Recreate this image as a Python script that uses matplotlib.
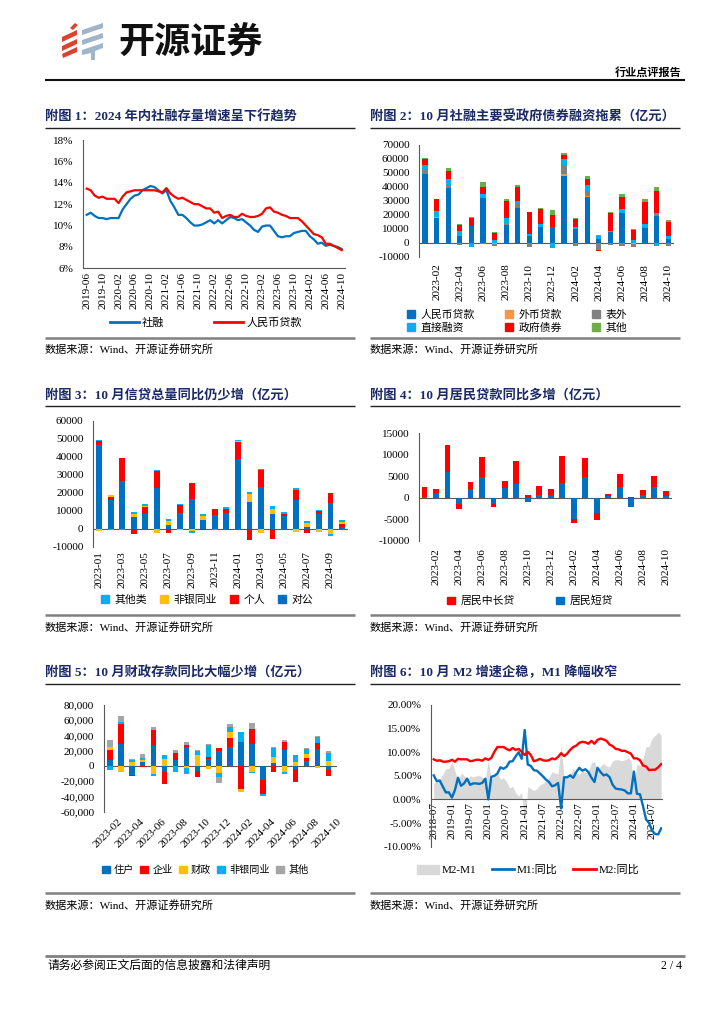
import matplotlib
matplotlib.use('Agg')
import matplotlib.pyplot as plt
import numpy as np
from matplotlib.patches import Polygon, Patch
from matplotlib.lines import Line2D
import matplotlib.ticker as mticker
import matplotlib.transforms as mtrans

plt.rcParams['font.family'] = ['Liberation Serif', 'Noto Sans CJK SC']
plt.rcParams['axes.unicode_minus'] = False

# ---------------- data ----------------
# Panel 1: 2019-06 .. 2024-10 monthly (%)
p1_ticks = ['2019-06', '2019-10', '2020-02', '2020-06', '2020-10', '2021-02', '2021-06',
            '2021-10', '2022-02', '2022-06', '2022-10', '2023-02', '2023-06', '2023-10',
            '2024-02', '2024-06', '2024-10']
p1_tsf = [11.0, 11.2, 10.9, 10.7, 10.7, 10.6, 10.7,
          10.7, 10.7, 11.5, 12.0, 12.5, 12.8, 12.9, 13.3, 13.5, 13.7, 13.6, 13.3,
          13.0, 13.3, 12.3, 11.7, 11.0, 11.0, 10.7, 10.3, 10.0, 10.0, 10.1, 10.3,
          10.5, 10.2, 10.5, 10.2, 10.5, 10.8, 10.7, 10.5, 10.6, 10.3, 10.0, 9.6,
          9.4, 9.9, 10.0, 10.0, 9.5, 9.0, 8.9, 9.0, 9.0, 9.3, 9.4, 9.5,
          9.5, 9.0, 8.7, 8.3, 8.4, 8.1, 8.2, 8.1, 8.0, 7.8]
p1_loan = [13.45, 13.3, 12.8, 12.6, 12.7, 12.5, 12.5,
           12.5, 12.1, 12.7, 13.1, 13.2, 13.3, 13.3, 13.3, 13.3, 13.3, 13.3, 13.2,
           13.1, 13.5, 13.0, 12.7, 12.5, 12.6, 12.4, 12.2, 12.0, 12.0, 11.8, 11.6,
           11.6, 11.2, 11.3, 10.7, 10.9, 11.0, 10.8, 10.8, 11.1, 10.9, 10.8, 10.8,
           10.9, 11.1, 11.6, 11.7, 11.3, 11.2, 11.0, 10.9, 10.7, 10.7, 10.7, 10.4,
           10.0, 9.6, 9.2, 9.1, 8.9, 8.3, 8.3, 8.1, 7.9, 7.7]

# Panel 2: 2023-01 .. 2024-10 (亿元)
p2_ticks = ['2023-02', '2023-04', '2023-06', '2023-08', '2023-10', '2023-12',
            '2024-02', '2024-04', '2024-06', '2024-08', '2024-10']
p2_loan = [49000, 18000, 39000, 4500, 12000, 32000, -400, 13000, 25000, 4500, 11000,
           11000, 48000, 9500, 32500, 3000, 8000, 21500, -500, 10500, 19500, 2800]
p2_fx = [200, 100, 500, -200, -500, -300, -300, -200, 200, -100, -200,
         -100, 1500, -100, 1000, -500, -300, -200, -500, -200, -100, -200]
p2_off = [3500, 200, 1500, -1300, -200, -800, -1500, 500, 3000, -3000, 300,
          -300, 6000, -2500, 3500, -4500, -1500, -2000, -2000, 1000, 2000, -2000]
p2_direct = [2700, 4500, 4500, 3800, -2200, 3000, 2200, 4500, 1500, 2000, 2000,
             -3500, 4500, 2000, 4500, 2000, 500, 2500, 2200, 2000, -2500, 1700]
p2_gov = [4500, 8200, 6000, 4600, 6000, 5000, 4500, 12000, 10000, 15500, 11000,
          9000, 2500, 5500, 4500, -800, 12500, 8500, 7000, 16000, 15500, 10500]
p2_other = [500, 500, 2300, 500, 600, 3500, 1000, 1500, 2000, 300, 500,
            3500, 2000, 1000, 2000, 200, 1000, 2500, 900, 1500, 3000, 1000]
p2_names = ['人民币贷款', '外币贷款', '表外', '直接融资', '政府债券', '其他']

# Panel 3: 2023-01 .. 2024-10 (亿元)
p3_ticks = ['2023-01', '2023-03', '2023-05', '2023-07', '2023-09', '2023-11',
            '2024-01', '2024-03', '2024-05', '2024-07', '2024-09']
p3_corp = [46500, 15800, 26500, 6500, 8200, 22500, 2000, 9000, 16500, 4600, 7800,
           8500, 38500, 15000, 23000, 8200, 7200, 16000, 800, 8000, 14200, 800]
p3_hh = [2500, 2000, 13000, -2700, 3600, 9500, -2500, 4200, 9000, -600, 3400,
         2300, 9500, -6000, 9500, -5700, 800, 5500, -2500, 1800, 5600, 1700]
p3_nbfi = [-1000, 700, -200, 1800, 700, -2300, 2200, -600, -1500, 2400, -200,
           -200, 500, 4300, -2500, 2600, -200, -1800, 2200, -1600, -2800, 1300]
p3_other = [500, -500, -500, 1200, 1000, 500, 1300, 800, -1000, 1000, -300,
            1000, 1000, 1200, 500, 1700, 1500, 1300, 1500, 700, -1200, 1200]
p3_names = ['对公', '个人', '非银同业', '其他类']

# Panel 4: 2023-01 .. 2024-10 (亿元)
p4_ticks = p2_ticks
p4_short = [250, 1100, 6000, -1300, 2000, 4900, -1400, 2200, 3200, -1000, 600,
            700, 3500, -4800, 4900, -3500, 400, 2500, -2100, 700, 2600, 400]
p4_mid = [2200, 900, 6300, -1200, 1600, 4600, -600, 1700, 5400, 700, 2200,
          1400, 6200, -1000, 4400, -1700, 400, 3100, 150, 1200, 2400, 1200]
p4_names = ['居民短贷', '居民中长贷']

# Panel 5: 2023-02 .. 2024-10 (亿元)
p5_ticks = p2_ticks
p5_hh = [8000, 29000, -12000, 5000, 26500, -8000, 7500, 24500, -7000, 8500, 19500,
         25000, 31500, 28500, -18000, 3500, 21000, -4000, 6000, 22000, -5500]
p5_corp = [12500, 26000, -1000, -2000, 20500, -16000, 9000, 2500, -8000, 3000, 3500,
           12000, -30000, 20000, -18500, -8500, 10000, -17000, 4000, 8000, -7500]
p5_fis = [4500, -8500, 5000, 3000, -10000, 9000, -500, -2500, 14000, -4000, -9500,
          8000, -4000, -8000, -500, 8000, -8500, 5500, 6000, -3000, 6000]
p5_nbfi = [-5500, 3000, 3000, 3000, -3000, 5000, -8000, -7500, 5500, 16000, -5500,
           6000, 12500, -1500, -3000, 12500, -2000, 8500, 6500, 8500, 11000]
p5_other = [8500, 7500, 500, 5000, 4000, 0, 4000, 4000, 2000, 1000, -7000,
            4000, 0, 8500, 0, 1000, 3500, 0, 500, 1000, 2500]
p5_names = ['住户', '企业', '财政', '非银同业', '其他']

# Panel 6: 2018-07 .. 2024-10 monthly (%)
p6_ticks = ['2018-07', '2019-01', '2019-07', '2020-01', '2020-07', '2021-01', '2021-07',
            '2022-01', '2022-07', '2023-01', '2023-07', '2024-01', '2024-07']
p6_m1 = [5.1, 3.9, 4.0, 2.7, 1.5, 1.5,
         0.4, 2.0, 4.6, 2.9, 3.4, 4.4, 3.1, 3.4, 3.4, 3.3, 3.5, 4.4,
         0.0, 4.8, 5.0, 5.5, 6.8, 6.5, 6.9, 8.0, 8.1, 9.1, 10.0, 8.6,
         14.7, 7.4, 7.1, 6.2, 6.1, 5.5, 4.9, 4.2, 3.7, 2.8, 3.0, 3.5,
         -1.9, 4.7, 4.7, 5.1, 4.6, 5.8, 6.7, 6.1, 6.4, 5.8, 4.6, 3.7,
         6.7, 5.8, 5.1, 5.3, 4.7, 3.1, 2.3, 2.2, 2.1, 1.9, 1.3, 1.3,
         5.9, 1.2, 1.1, -1.4, -4.2, -5.0, -6.6, -7.3, -7.4, -6.1]
p6_m2 = [8.5, 8.2, 8.3, 8.0, 8.0, 8.1,
         8.4, 8.0, 8.6, 8.5, 8.5, 8.5, 8.1, 8.2, 8.4, 8.4, 8.2, 8.7,
         8.4, 8.8, 10.1, 11.1, 11.1, 11.1, 10.7, 10.4, 10.9, 10.5, 10.7, 10.1,
         9.4, 10.1, 9.4, 8.1, 8.3, 8.6, 8.3, 8.2, 8.3, 8.7, 8.5, 9.0,
         9.8, 9.2, 9.7, 10.5, 11.1, 11.4, 12.0, 12.2, 12.1, 11.8, 12.4, 11.8,
         12.6, 12.9, 12.7, 12.4, 11.6, 11.3, 10.7, 10.6, 10.3, 10.3, 10.0, 9.7,
         8.7, 8.7, 8.3, 7.2, 7.0, 6.2, 6.3, 6.3, 6.8, 7.5]
p6_spread = [3.4, 4.3, 4.3, 5.3, 6.5, 6.6,
             8.0, 6.0, 4.0, 5.6, 5.1, 4.1, 5.0, 4.8, 5.0, 5.1, 4.7, 4.3,
             8.4, 4.0, 5.1, 5.6, 4.3, 4.6, 3.8, 2.4, 2.8, 1.4, 0.7, 1.5,
             -5.3, 2.7, 2.3, 1.9, 2.2, 3.1, 3.4, 4.0, 4.6, 5.9, 5.5, 5.5,
             11.7, 4.5, 5.0, 5.4, 6.5, 5.6, 5.3, 6.1, 5.7, 6.0, 7.8, 8.1,
             5.9, 7.1, 7.6, 7.1, 6.9, 8.2, 8.4, 8.4, 8.2, 8.4, 8.7, 8.4,
             2.8, 7.5, 7.2, 8.6, 11.2, 11.2, 12.9, 13.6, 14.2, 13.6]

# ---------------- styling ----------------
BLUE = '#0070C0'
RED = '#FF0000'
CYAN = '#00B0F0'
GOLD = '#FFC000'
GRAY = '#808080'
LGRAY = '#A5A5A5'
GREEN = '#70AD47'
ORANGE = '#F79646'
NAVY = '#1B2A66'
AXC = '#595959'
TICK_FS = 8

W, H = 724, 1024
fig = plt.figure(figsize=(W / 100, H / 100), dpi=100)


def fx(x):
    return x / W


def fy(y):
    return 1 - y / H


def add_ax(l, t, r, b):
    return fig.add_axes([l / W, 1 - b / H, (r - l) / W, (b - t) / H])


def hline(x0, x1, y, lw=1.0, color='#222222'):
    fig.add_artist(Line2D([fx(x0), fx(x1)], [fy(y), fy(y)], transform=fig.transFigure,
                          color=color, lw=lw, solid_capstyle='butt'))


def style_ax(ax):
    for s in ['top', 'right']:
        ax.spines[s].set_visible(False)
    for s in ['left', 'bottom']:
        ax.spines[s].set_color(AXC)
        ax.spines[s].set_linewidth(0.8)
    ax.tick_params(axis='both', labelsize=TICK_FS, labelcolor='black', length=3, width=0.7, color=AXC)
    ax.tick_params(axis='y', length=0, pad=7)
    ax.patch.set_alpha(0)


def stacked(ax, series, colors, width):
    n = len(series[0])
    x = np.arange(n)
    pos = np.zeros(n)
    neg = np.zeros(n)
    for vals, c in zip(series, colors):
        v = np.asarray(vals, dtype=float)
        bottom = np.where(v >= 0, pos, neg)
        ax.bar(x, v, width, bottom=bottom, color=c, linewidth=0)
        pos += np.where(v >= 0, v, 0)
        neg += np.where(v < 0, v, 0)
    return x


def title(x, y, s):
    fig.text(fx(x), fy(y), s, fontsize=9.5, fontweight='bold', color=NAVY, va='center', ha='left')


def source(x, y):
    fig.text(fx(x), fy(y), '数据来源：Wind、开源证券研究所', fontsize=8, va='center', ha='left')


def bar_x_axis(ax, ticks_pos, labels, pad):
    ax.spines['bottom'].set_visible(False)
    ax.axhline(0, color=AXC, lw=0.8, zorder=0.5)
    ax.set_xticks(ticks_pos)
    ax.set_xticklabels(labels, rotation=90)
    ax.tick_params(axis='x', length=0, pad=pad)


# ---------------- header ----------------
logo = fig.add_axes([55 / W, 1 - 68 / H, 60 / W, 48 / H])
logo.set_xlim(55, 115)
logo.set_ylim(68, 20)
logo.axis('off')
red_polys = [
    [(70, 28), (75, 23), (78, 25), (73, 30)],
    [(62, 37), (77, 30), (77, 35), (62, 42)],
    [(62, 46), (77, 39), (77, 44), (62, 51)],
    [(62, 54), (77, 47), (77, 52), (63, 58)],
]
blue_polys = [
    [(82, 30), (103, 23), (103, 28), (82, 35)],
    [(82, 40), (103, 33), (103, 38), (82, 45)],
    [(82, 50), (103, 43), (103, 48), (95, 51), (95, 60), (91, 60), (91, 53), (82, 55)],
]
for p in red_polys:
    logo.add_patch(Polygon(p, closed=True, color='#D9432F', lw=0))
for p in blue_polys:
    logo.add_patch(Polygon(p, closed=True, color='#9FB6C9', lw=0))
fig.text(fx(118), fy(43), '开源证券', fontsize=26, fontweight='bold', color='#111111',
         va='center', ha='left', family=['Noto Sans CJK SC', 'DejaVu Sans'])
fig.text(fx(682), fy(72), '行业点评报告', fontsize=8, fontweight='bold', va='center', ha='right',
         family=['Noto Sans CJK SC', 'DejaVu Sans'])
hline(45, 685, 80, lw=1.5, color='#111111')

# ---------------- panel 1 ----------------
title(45, 117, '附图 1：2024 年内社融存量增速呈下行趋势')
hline(45, 355, 128.3)
ax1 = add_ax(83, 140, 345, 268.3)
style_ax(ax1)
x1 = np.arange(len(p1_tsf))
ax1.plot(x1, p1_tsf, color=BLUE, lw=1.6, label='社融')
ax1.plot(x1, p1_loan, color=RED, lw=1.6, label='人民币贷款')
ax1.set_ylim(6, 18)
ax1.set_yticks(np.arange(6, 19, 2))
ax1.yaxis.set_major_formatter(mticker.FormatStrFormatter('%d%%'))
ax1.set_xlim(-0.93, 64.83)
ax1.set_xticks(np.arange(0, 65, 4))
ax1.set_xticklabels(p1_ticks, rotation=90)
ax1.tick_params(axis='x', length=0, pad=3)
h1 = [Line2D([], [], color=BLUE, lw=2), Line2D([], [], color=RED, lw=2)]
fig.legend(h1, ['社融', '人民币贷款'], loc='center', bbox_to_anchor=(fx(206), fy(323)),
           bbox_transform=fig.transFigure, ncol=2, frameon=False, fontsize=8,
           handlelength=2.6, handletextpad=0.3, columnspacing=4.5, borderpad=0, borderaxespad=0)
hline(45, 355, 337.7, lw=1.8, color=GRAY)
source(45, 349)

# ---------------- panel 2 ----------------
title(370, 117, '附图 2：10 月社融主要受政府债券融资拖累（亿元）')
hline(370, 680, 128.3)
ax2 = add_ax(419.3, 145, 674, 256.7)
style_ax(ax2)
stacked(ax2, [p2_loan, p2_fx, p2_off, p2_direct, p2_gov, p2_other],
        [BLUE, ORANGE, GRAY, CYAN, RED, GREEN], 0.45)
ax2.set_ylim(-10000, 70000)
ax2.set_yticks(np.arange(-10000, 70001, 10000))
ax2.set_xlim(-0.5, 21.5)
bar_x_axis(ax2, np.arange(1, 22, 2), p2_ticks, pad=5)
cols2 = [BLUE, ORANGE, GRAY, CYAN, RED, GREEN]
order = [0, 3, 1, 4, 2, 5]
h2 = [Patch(color=cols2[i]) for i in order]
l2 = [p2_names[i] for i in order]
fig.legend(h2, l2, loc='center', bbox_to_anchor=(fx(517), fy(321.5)),
           bbox_transform=fig.transFigure, ncol=3, frameon=False, fontsize=7.8,
           handlelength=0.75, handleheight=0.75, handletextpad=0.5, columnspacing=2.8,
           labelspacing=0.25, borderpad=0, borderaxespad=0)
hline(370, 680, 337.7, lw=1.8, color=GRAY)
source(370, 349)

# ---------------- panel 3 ----------------
title(45, 395, '附图 3：10 月信贷总量同比仍少增（亿元）')
hline(45, 355, 406)
ax3 = add_ax(93.3, 420.7, 347.8, 546.7)
style_ax(ax3)
stacked(ax3, [p3_corp, p3_hh, p3_nbfi, p3_other], [BLUE, RED, GOLD, CYAN], 0.5)
ax3.set_ylim(-10000, 60000)
ax3.set_yticks(np.arange(-10000, 60001, 10000))
ax3.set_xlim(-0.5, 21.5)
bar_x_axis(ax3, np.arange(0, 22, 2), p3_ticks, pad=3)
h3 = [Patch(color=c) for c in [CYAN, GOLD, RED, BLUE]]
l3 = [p3_names[3], p3_names[2], p3_names[1], p3_names[0]]
fig.legend(h3, l3, loc='center', bbox_to_anchor=(fx(207), fy(599.5)),
           bbox_transform=fig.transFigure, ncol=4, frameon=False, fontsize=7.8,
           handlelength=0.75, handleheight=0.75, handletextpad=0.5, columnspacing=1.2,
           borderpad=0, borderaxespad=0)
hline(45, 355, 615, lw=1.8, color=GRAY)
source(45, 627)

# ---------------- panel 4 ----------------
title(370, 395, '附图 4：10 月居民贷款同比多增（亿元）')
hline(370, 680, 406)
ax4 = add_ax(419.3, 433.3, 672, 541)
style_ax(ax4)
stacked(ax4, [p4_short, p4_mid], [BLUE, RED], 0.5)
ax4.set_ylim(-10000, 15000)
ax4.set_yticks(np.arange(-10000, 15001, 5000))
ax4.set_xlim(-0.45, 21.55)
bar_x_axis(ax4, np.arange(1, 22, 2), p4_ticks, pad=5)
h4 = [Patch(color=RED), Patch(color=BLUE)]
fig.legend(h4, [p4_names[1], p4_names[0]], loc='center', bbox_to_anchor=(fx(530), fy(601)),
           bbox_transform=fig.transFigure, ncol=2, frameon=False, fontsize=7.8,
           handlelength=0.75, handleheight=0.75, handletextpad=0.5, columnspacing=3.8,
           borderpad=0, borderaxespad=0)
hline(370, 680, 615, lw=1.8, color=GRAY)
source(370, 627)

# ---------------- panel 5 ----------------
title(45, 673, '附图 5：10 月财政存款同比大幅少增（亿元）')
hline(45, 355, 684.3)
ax5 = add_ax(104, 705, 336.7, 811.7)
style_ax(ax5)
stacked(ax5, [p5_hh, p5_corp, p5_fis, p5_nbfi, p5_other], [BLUE, RED, GOLD, CYAN, LGRAY], 0.5)
ax5.set_ylim(-60000, 80000)
ax5.set_yticks(np.arange(-60000, 80001, 20000))
ax5.yaxis.set_major_formatter(mticker.StrMethodFormatter('{x:,.0f}'))
ax5.set_xlim(-0.55, 20.77)
ax5.spines['bottom'].set_visible(False)
ax5.axhline(0, color=AXC, lw=0.8, zorder=0.5)
ax5.set_xticks(np.arange(0, 21, 2))
ax5.set_xticklabels(p5_ticks, rotation=45, ha='right', rotation_mode='anchor')
ax5.tick_params(axis='x', length=0, pad=4)
off = mtrans.ScaledTranslation(8 / 100, 0, fig.dpi_scale_trans)
for lab in ax5.get_xticklabels():
    lab.set_transform(lab.get_transform() + off)
h5 = [Patch(color=c) for c in [BLUE, RED, GOLD, CYAN, LGRAY]]
fig.legend(h5, p5_names, loc='center', bbox_to_anchor=(fx(205), fy(870)),
           bbox_transform=fig.transFigure, ncol=5, frameon=False, fontsize=7.3,
           handlelength=0.8, handleheight=0.8, handletextpad=0.4, columnspacing=0.6,
           borderpad=0, borderaxespad=0)
hline(45, 355, 893.3, lw=1.8, color=GRAY)
source(45, 905)

# ---------------- panel 6 ----------------
title(370, 673, '附图 6：10 月 M2 增速企稳，M1 降幅收窄')
hline(370, 680, 684.3)
ax6 = add_ax(431.3, 705, 661.5, 846.7)
style_ax(ax6)
x6 = np.arange(len(p6_m1))
ax6.fill_between(x6, 0, p6_spread, color='#D9D9D9', lw=0, label='M2-M1')
ax6.plot(x6, p6_m1, color=BLUE, lw=1.7, label='M1:同比')
ax6.plot(x6, p6_m2, color=RED, lw=1.7, label='M2:同比')
ax6.set_ylim(-10, 20)
ax6.set_yticks(np.arange(-10, 21, 5))
ax6.yaxis.set_major_formatter(mticker.FormatStrFormatter('%.2f%%'))
ax6.set_xlim(-0.8, 75.1)
ax6.spines['bottom'].set_position(('data', 0))
ax6.set_xticks(np.arange(0, 76, 6))
ax6.set_xticklabels(p6_ticks, rotation=90)
ax6.tick_params(axis='x', length=0, pad=2)
h6 = [Patch(color='#D9D9D9'), Line2D([], [], color=BLUE, lw=2), Line2D([], [], color=RED, lw=2)]
fig.legend(h6, ['M2-M1', 'M1:同比', 'M2:同比'], loc='center', bbox_to_anchor=(fx(528), fy(870)),
           bbox_transform=fig.transFigure, ncol=3, frameon=False, fontsize=8,
           handlelength=2.0, handleheight=0.9, handletextpad=0.25, columnspacing=1.4,
           borderpad=0, borderaxespad=0)
hline(370, 680, 893.3, lw=1.8, color=GRAY)
source(370, 905)

# ---------------- footer ----------------
hline(45, 685, 955.7, lw=2, color=GRAY)
fig.text(fx(47), fy(966), '请务必参阅正文后面的信息披露和法律声明', fontsize=8.5, va='center', ha='left')
fig.text(fx(682), fy(966), '2 / 4', fontsize=8.5, va='center', ha='right')

fig.savefig('out.png', dpi=100)
